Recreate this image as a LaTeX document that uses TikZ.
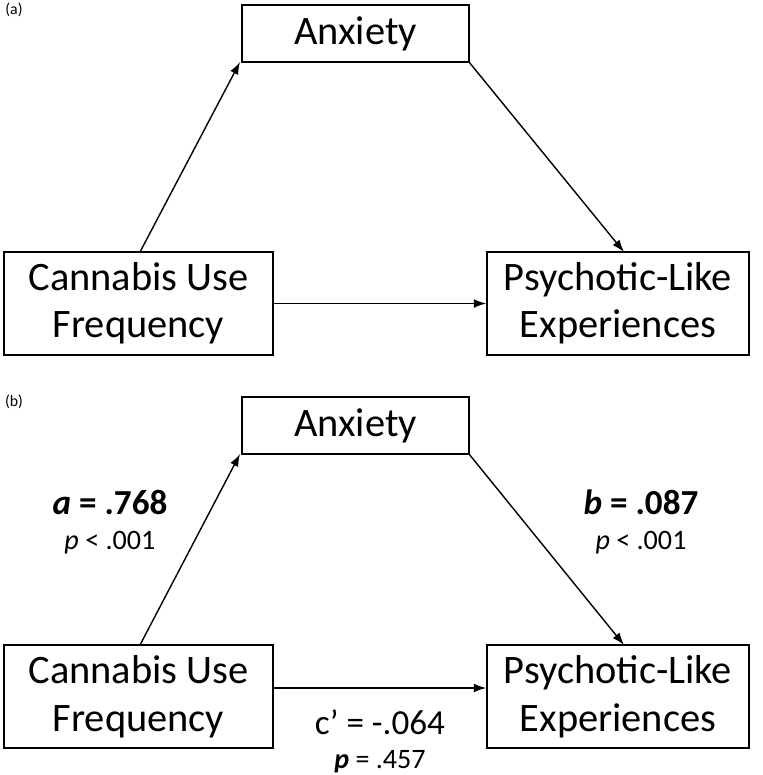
\documentclass[tikz,border=0pt]{standalone}
\usepackage{fontspec}
\setmainfont{Carlito}
\usetikzlibrary{arrows.meta}
\begin{document}
\begin{tikzpicture}[x=0.02cm,y=-0.02cm]

% definitions
\tikzstyle{box} = [rectangle, draw=black, line width=0.9pt, inner sep=0pt, align=center, font=\fontsize{23}{27}\selectfont]
\tikzstyle{arrow} = [-{Latex[length=7pt,width=5pt]}, line width=0.8pt]
\tikzstyle{coef} = [font=\fontsize{20}{24}\selectfont\bfseries]
\tikzstyle{pval} = [font=\fontsize{16}{19}\selectfont]

\useasboundingbox (0,0) rectangle (762,775);

% panel (a)
\node at (14,10) {\fontsize{9}{10}\selectfont (a)};
\node (anxa) [box, minimum width=227*0.02cm, minimum height=57*0.02cm] at (355.5,33.5) {Anxiety};
\node (cana) [box, minimum width=269*0.02cm, minimum height=103*0.02cm] at (138.5,303.5) {Cannabis Use\\Frequency};
\node (plea) [box, minimum width=262*0.02cm, minimum height=103*0.02cm] at (618,303.5) {Psychotic-Like\\Experiences};

\draw [arrow] (140,252) -- (240,62);
\draw [arrow] (469,62) -- (624,252);
\draw [arrow] (cana) -- (plea);

% panel (b)
\node at (14,402) {\fontsize{9}{10}\selectfont (b)};
\node (anxb) [box, minimum width=227*0.02cm, minimum height=57*0.02cm] at (355.5,425.5) {Anxiety};
\node (canb) [box, minimum width=269*0.02cm, minimum height=103*0.02cm] at (138.5,696.5) {Cannabis Use\\Frequency};
\node (pleb) [box, minimum width=262*0.02cm, minimum height=103*0.02cm] at (618,696.5) {Psychotic-Like\\Experiences};

\draw [arrow] (140,645) -- (240,454);
\draw [arrow] (469,454) -- (624,645);
\draw [arrow] (canb.east |- 0,688) -- (pleb.west |- 0,688);

\node (ca) [coef] at (110,502) {\textit{a} = .768};
\node (pa) [pval] at (110,543) {\textit{p} < .001};
\node (cb) [coef] at (641,502) {\textit{b} = .087};
\node (pb) [pval] at (641,543) {\textit{p} < .001};
\node (cc) [font=\fontsize{20}{24}\selectfont] at (380,722) {c’ = -.064};
\node (pc) [pval] at (380,762) {\textbf{\textit{p}} = .457};

\end{tikzpicture}
\end{document}
